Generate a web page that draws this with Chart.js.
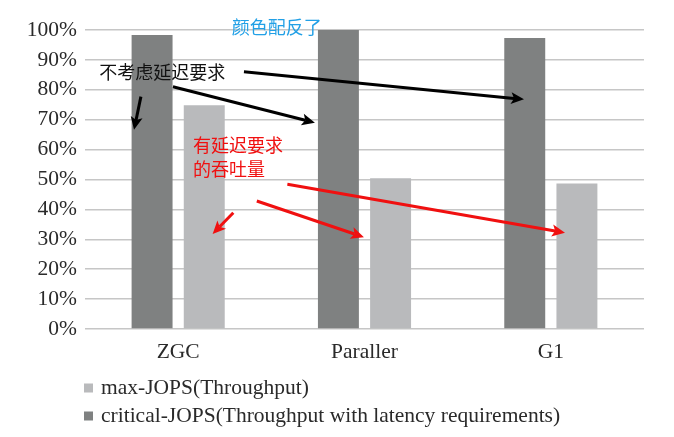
<!DOCTYPE html>
<html>
<head>
<meta charset="utf-8">
<script src="https://cdn.jsdelivr.net/npm/chart.js@4"></script>
<style>
  html, body { margin: 0; padding: 0; background: #fff; }
  #wrap { width: 674px; height: 437px; position: relative; }
</style>
</head>
<body>
<div id="wrap"><canvas id="c" width="674" height="437"></canvas></div>
<script>
// ---- data ----
const categories = ['ZGC', 'Paraller', 'G1'];
const criticalJops = [98.3, 100, 97.3];
const maxJops = [74.8, 50.4, 48.7];
const seriesLabels = ['critical-JOPS(Throughput with latency requirements)', 'max-JOPS(Throughput)'];
const yTicks = [0, 10, 20, 30, 40, 50, 60, 70, 80, 90, 100];

// annotation texts, positioned in data space: [category index, percent]
const notes = [
  { text: '颜色配反了', at: [0.287, 101.1], color: '#22a0e6' },
  { text: '不考虑延迟要求', at: [-0.423, 86.0], color: '#111' },
  { text: '有延迟要求', at: [0.080, 61.5], color: '#f01010' },
  { text: '的吞吐量', at: [0.080, 53.5], color: '#f01010' }
];
// arrows in data space: from [index, percent] to [index, percent]
const arrows = [
  { from: [-0.200, 77.7], to: [-0.237, 66.6], color: '#000' },
  { from: [-0.028, 81.0], to: [0.734, 69.0], color: '#000' },
  { from: [0.353, 86.0], to: [1.856, 76.8], color: '#000' },
  { from: [0.296, 38.9], to: [0.185, 31.8], color: '#f01010' },
  { from: [0.422, 42.8], to: [0.997, 30.7], color: '#f01010' },
  { from: [0.586, 48.4], to: [2.076, 32.2], color: '#f01010' }
];

const serif = '"Liberation Serif", "Times New Roman", serif';
const cjk = '"Noto Sans CJK SC", "Noto Sans", sans-serif';

const annotate = {
  id: 'annotate',
  afterDatasetsDraw(chart) {
    const ctx = chart.ctx;
    const xs = chart.scales.x, ys = chart.scales.y;
    const px = v => xs.getPixelForValue(v);
    const py = v => ys.getPixelForValue(v);
    ctx.save();
    arrows.forEach(a => {
      const x1 = px(a.from[0]), y1 = py(a.from[1]);
      const x2 = px(a.to[0]), y2 = py(a.to[1]);
      const ang = Math.atan2(y2 - y1, x2 - x1);
      const hl = 13, hw = 6;
      const bx = x2 - hl * Math.cos(ang), by = y2 - hl * Math.sin(ang);
      ctx.strokeStyle = a.color;
      ctx.fillStyle = a.color;
      ctx.lineWidth = 3;
      ctx.lineCap = 'butt';
      ctx.beginPath();
      ctx.moveTo(x1, y1);
      ctx.lineTo(bx + 3 * Math.cos(ang), by + 3 * Math.sin(ang));
      ctx.stroke();
      ctx.beginPath();
      ctx.moveTo(x2, y2);
      ctx.lineTo(bx + hw * Math.sin(ang), by - hw * Math.cos(ang));
      ctx.lineTo(bx + 3 * Math.cos(ang), by + 3 * Math.sin(ang));
      ctx.lineTo(bx - hw * Math.sin(ang), by + hw * Math.cos(ang));
      ctx.closePath();
      ctx.fill();
    });
    ctx.font = '18px ' + cjk;
    ctx.textBaseline = 'middle';
    ctx.textAlign = 'left';
    notes.forEach(n => {
      ctx.fillStyle = n.color;
      ctx.fillText(n.text, px(n.at[0]), py(n.at[1]));
    });
    ctx.restore();
  }
};

const customLegend = {
  id: 'customLegend',
  afterDraw(chart) {
    const ctx = chart.ctx;
    const area = chart.chartArea;
    const order = [1, 0];
    ctx.save();
    ctx.font = '21.5px ' + serif;
    ctx.textBaseline = 'middle';
    ctx.textAlign = 'left';
    order.forEach((di, row) => {
      const ds = chart.data.datasets[di];
      const y = area.bottom + 59 + row * 28;
      ctx.fillStyle = ds.backgroundColor;
      ctx.fillRect(area.left - 1, y - 4.5, 9, 9);
      ctx.fillStyle = '#2a2a2a';
      ctx.fillText(ds.label, area.left + 16, y);
    });
    ctx.restore();
  }
};

new Chart(document.getElementById('c'), {
  type: 'bar',
  data: {
    labels: categories,
    datasets: [
      { label: seriesLabels[0], data: criticalJops, backgroundColor: '#7f8181',
        categoryPercentage: 0.56, barPercentage: 0.785 },
      { label: seriesLabels[1], data: maxJops, backgroundColor: '#b9babc',
        categoryPercentage: 0.56, barPercentage: 0.785 }
    ]
  },
  options: {
    responsive: false,
    animation: false,
    layout: { padding: { left: 0, right: 30, top: 30, bottom: 68 } },
    plugins: {
      legend: { display: false },
      tooltip: { enabled: false }
    },
    scales: {
      x: {
        grid: { display: false, drawTicks: false },
        border: { display: false },
        ticks: { font: { family: serif, size: 21.5 }, color: '#2a2a2a', padding: 10 },
        afterFit(s) { s.height = 40; }
      },
      y: {
        min: 0, max: 100,
        afterBuildTicks(s) { s.ticks = yTicks.map(v => ({ value: v })); },
        grid: { color: '#c6c6c6', lineWidth: 1.5, drawTicks: false },
        border: { display: false },
        ticks: { font: { family: serif, size: 21.5 }, color: '#2a2a2a', padding: 8,
                 callback: v => v + '%' },
        afterFit(s) { s.width = 85; }
      }
    }
  },
  plugins: [annotate, customLegend]
});
</script>
</body>
</html>
